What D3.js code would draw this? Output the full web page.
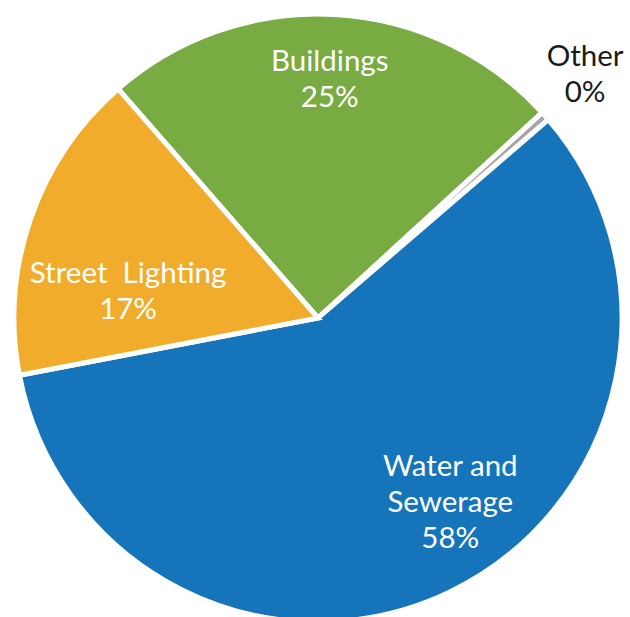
<!DOCTYPE html>
<html>
<head>
<meta charset="utf-8">
<script src="https://cdn.jsdelivr.net/npm/d3@7"></script>
<style>
  html, body { margin: 0; padding: 0; background: #ffffff; }
  svg { display: block; }
</style>
</head>
<body>
<svg id="chart" width="630" height="617"></svg>
<script>
// Spending share by category (percent)
const categories = ["Buildings", "Other", "Water and Sewerage", "Street Lighting"];
const values = [24.61, 0.49, 58.3, 16.6];
const colors = ["#79AB43", "#A6A6A6", "#1674BA", "#F0AC2A"];
// Label lines (category text split across lines)
const labelLines = [["Buildings"], ["Other"], ["Water and", "Sewerage"], ["Street  Lighting"]];
const labelInside = [true, false, true, true];

const width = 630, height = 617;
const cx = 318, cy = 318, radius = 304;
const firstSliceAngle = -41.1 * Math.PI / 180;

const svg = d3.select("#chart");
const g = svg.append("g").attr("transform", `translate(${cx},${cy})`);

const pie = d3.pie()
  .sort(null)
  .value(d => d.value)
  .startAngle(firstSliceAngle)
  .endAngle(firstSliceAngle + 2 * Math.PI);

const data = categories.map((c, i) => ({
  name: c, value: values[i], color: colors[i], lines: labelLines[i], inside: labelInside[i]
}));
const arcs = pie(data);

const arc = d3.arc().innerRadius(0).outerRadius(radius);

g.selectAll("path.slice")
  .data(arcs)
  .join("path")
  .attr("class", "slice")
  .attr("d", arc)
  .attr("fill", d => d.data.color)
  .attr("stroke", "#ffffff")
  .attr("stroke-width", 5)
  .attr("stroke-linejoin", "miter");

// Label placement: radial distance and angular nudge per slice (best-fit style)
const labelRadius = [241, 363, 225, 192];
const labelAngleShift = [-0.4, -1.0, -10.2, -10.6];

const fontSize = 29.5;
const lineH = 36;

arcs.forEach((a, i) => {
  const mid = (a.startAngle + a.endAngle) / 2 + labelAngleShift[i] * Math.PI / 180;
  const r = labelRadius[i];
  const x = Math.sin(mid) * r;
  const y = -Math.cos(mid) * r;
  const lines = a.data.lines.concat([Math.round(a.data.value) + "%"]);
  const top = y - (lines.length * lineH) / 2;
  const t = g.append("text")
    .attr("text-anchor", "middle")
    .attr("font-family", "Lato, 'Open Sans', sans-serif")
    .attr("font-size", fontSize)
    .attr("fill", a.data.inside ? "#ffffff" : "#1a1a1a")
    .style("white-space", "pre");
  lines.forEach((ln, k) => {
    t.append("tspan")
      .attr("x", x)
      .attr("y", top + k * lineH + lineH * 0.5)
      .attr("dominant-baseline", "central")
      .text(ln);
  });
});
</script>
</body>
</html>
